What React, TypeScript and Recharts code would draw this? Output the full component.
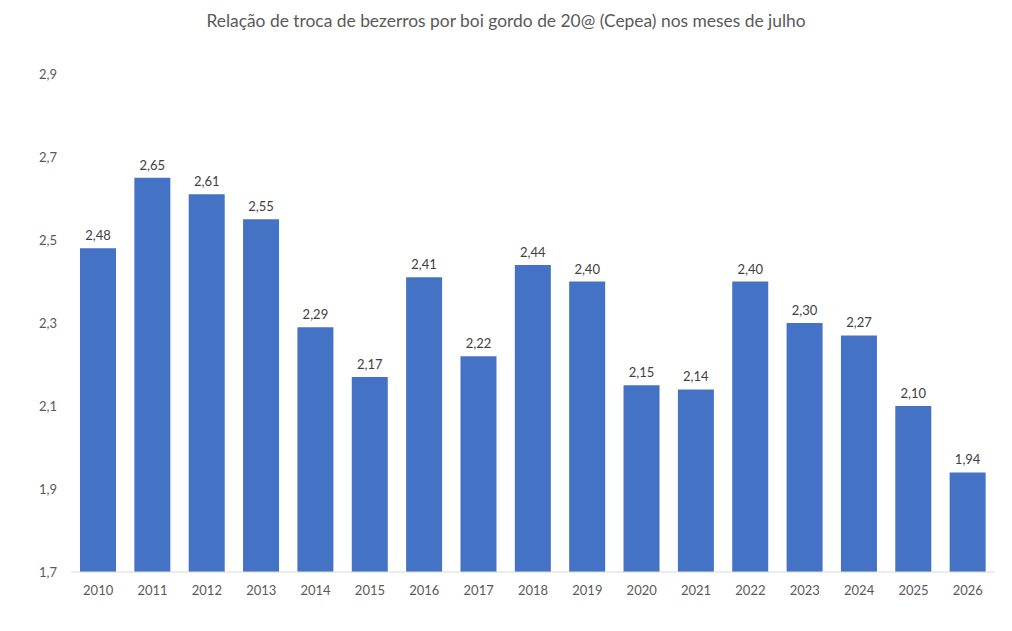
import React from 'react';
import { BarChart, Bar, XAxis, YAxis, LabelList } from 'recharts';

const years = ['2010', '2011', '2012', '2013', '2014', '2015', '2016', '2017', '2018', '2019', '2020', '2021', '2022', '2023', '2024', '2025', '2026'];
const ratios = [2.48, 2.65, 2.61, 2.55, 2.29, 2.17, 2.41, 2.22, 2.44, 2.40, 2.15, 2.14, 2.40, 2.30, 2.27, 2.10, 1.94];
const yTicks = [1.7, 1.9, 2.1, 2.3, 2.5, 2.7, 2.9];

const data = years.map((year, i) => ({ year, ratio: ratios[i] }));

const FONT = 'Lato, "Open Sans", sans-serif';
const comma = (v: number, d: number) => v.toFixed(d).replace('.', ',');

const App: React.FC = () => {
    return (
        <div style={{ position: 'absolute', left: 0, top: 0, width: 1012, height: 631, background: '#fff', fontFamily: FONT }}>
            <div style={{ position: 'absolute', top: 10, left: 0, width: 1012, textAlign: 'center', fontSize: 17.4, color: '#595959' }}>
                Relação de troca de bezerros por boi gordo de 20@ (Cepea) nos meses de julho
            </div>
            <BarChart width={1012} height={631} data={data} margin={{ top: 74, right: 17, left: 11, bottom: 29 }} barSize={36}>
                <XAxis
                    dataKey="year"
                    height={30}
                    tickLine={false}
                    axisLine={{ stroke: '#d9d9d9' }}
                    tick={{ fill: '#595959', fontSize: 13, fontFamily: FONT }}
                    tickMargin={8}
                />
                <YAxis
                    width={60}
                    domain={[1.7, 2.9]}
                    ticks={yTicks}
                    interval={0}
                    axisLine={false}
                    tickLine={false}
                    tickMargin={8}
                    tickFormatter={(v) => comma(v as number, 1)}
                    tick={{ fill: '#595959', fontSize: 13, fontFamily: FONT }}
                />
                <Bar dataKey="ratio" fill="#4472C4" isAnimationActive={false}>
                    <LabelList
                        dataKey="ratio"
                        position="top"
                        offset={8}
                        formatter={(v: any) => comma(v as number, 2)}
                        style={{ fill: '#404040', fontSize: 13, fontFamily: FONT }}
                    />
                </Bar>
            </BarChart>
        </div>
    );
};

export default App;
